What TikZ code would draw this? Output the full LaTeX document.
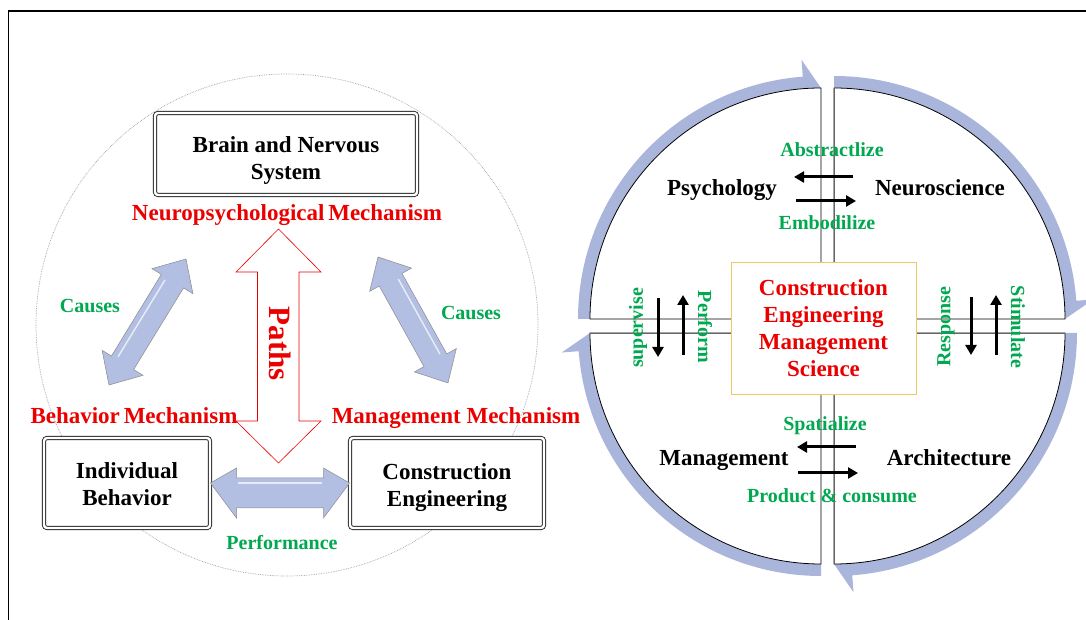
\documentclass[tikz,border=0pt]{standalone}
\usepackage{fontspec}
\setmainfont{Liberation Serif}
\usetikzlibrary{arrows.meta,calc}
\definecolor{redt}{RGB}{235,0,0}
\definecolor{greent}{RGB}{0,168,80}
\definecolor{bandblue}{RGB}{170,181,219}
\definecolor{arrowblue}{RGB}{178,190,226}
\definecolor{boxgold}{RGB}{236,204,96}
\definecolor{circgray}{RGB}{150,160,180}
\begin{document}
\begin{tikzpicture}[x=1pt,y=1pt,
  lbl/.style={font=\fontsize{23}{27}\selectfont\bfseries, align=center, inner sep=0pt},
  redlbl/.style={lbl, text=redt},
  grnlbl/.style={font=\fontsize{20}{24}\selectfont\bfseries, text=greent, inner sep=0pt},
  blkbox/.style={draw=black!85, line width=0.9pt, double=white, double distance=2.4pt, rounded corners=3pt, fill=white},
  blockarrow/.style={fill=arrowblue, draw=black!45, line width=0.5pt},
  smallarrow/.style={line width=3pt, -{Triangle[length=10pt,width=11pt]}},
  quad/.style={fill=white, draw=black, line width=0.8pt},
  band/.style={fill=bandblue},
  hollowarrow/.style={draw=redt, line width=0.6pt, fill=white}
]
\useasboundingbox (0,0) rectangle (1086,620);
\clip (0,0) rectangle (1086,620);
% frame
\draw[line width=1.5pt] (8.5,-20) -- (8.5,609) -- (1100,609);

% ---------------- left part ----------------
\draw[circgray, densely dotted, line width=0.7pt] (287,295) circle[radius=251];

\node[blkbox, minimum width=262pt, minimum height=82pt] (brain) at (286,466) {};
\node[lbl] (brainT) at (286,459) {Brain and Nervous\\System};
\node[blkbox, minimum width=166pt, minimum height=90pt] (indiv) at (127,137) {};
\node[lbl] (indivT) at (127,135.5) {Individual\\Behavior};
\node[blkbox, minimum width=194pt, minimum height=90pt] (cons) at (447,137) {};
\node[lbl] (consT) at (447,132.5) {Construction\\Engineering};

\node[redlbl] (neuro) at (287,405) {Neuropsychological\,Mechanism};
\node[redlbl] (behm) at (134,204) {Behavior\,Mechanism};
\node[redlbl] (mgm) at (456,202) {Management Mechanism};

% hollow red double arrow (Paths)
\coordinate (ptop) at (278.5,391);
\coordinate (pbot) at (278.5,157);
\path[hollowarrow] (ptop) -- (321,348) -- (299,348) -- (299,199) -- (321,199) -- (pbot)
  -- (236,199) -- (257.5,199) -- (257.5,348) -- (236,348) -- cycle;
\node[font=\fontsize{31}{31}\selectfont\bfseries, text=redt, rotate=-90, inner sep=0pt] (paths) at (280,276) {Paths};

% blue block arrows
\begin{scope}[shift={(147.5,298)}, rotate=58.57]
\path[blockarrow] (73.85,0) -- (47.85,24) -- (47.85,13) -- (-47.85,13) -- (-47.85,24) -- (-73.85,0)
  -- (-47.85,-24) -- (-47.85,-13) -- (47.85,-13) -- (47.85,-24) -- cycle;
\draw[white, line width=1.5pt, opacity=0.7] (-45,7) -- (45,7);
\end{scope}
\begin{scope}[shift={(413,300)}, rotate=119.06]
\path[blockarrow] (72.05,0) -- (46.05,24) -- (46.05,13) -- (-46.05,13) -- (-46.05,24) -- (-72.05,0)
  -- (-46.05,-24) -- (-46.05,-13) -- (46.05,-13) -- (46.05,-24) -- cycle;
\draw[white, line width=1.5pt, opacity=0.7] (-43,-7) -- (43,-7);
\end{scope}
\path[blockarrow] (indiv.east) -- (236.5,152) -- (236.5,142) -- (323.5,142) -- (323.5,152) -- (cons.west)
  -- (323.5,102) -- (323.5,112) -- (236.5,112) -- (236.5,102) -- cycle;
\draw[white, line width=1.5pt, opacity=0.7] (238,137) -- (322,137);

\node[grnlbl] (causesL) at (90,314) {Causes};
\node[grnlbl] (causesR) at (471,307) {Causes};
\node[grnlbl] (perf) at (282,77) {Performance};

% ---------------- right part ----------------
% blue bands with half arrow heads
\begin{scope}[shift={(821,301)}]
\path[band] (180:243) arc[start angle=180, end angle=94.3, radius=243] -- (94.3:260) -- (90:231)
  arc[start angle=90, end angle=180, radius=231] -- cycle;
\end{scope}
\begin{scope}[shift={(834,301)}]
\path[band] (90:243) arc[start angle=90, end angle=4.3, radius=243] -- (4.3:260) -- (0:231)
  arc[start angle=0, end angle=90, radius=231] -- cycle;
\end{scope}
\begin{scope}[shift={(834,287)}]
\path[band] (0:243) arc[start angle=0, end angle=-85.7, radius=243] -- (-85.7:260) -- (-90:231)
  arc[start angle=-90, end angle=0, radius=231] -- cycle;
\end{scope}
\begin{scope}[shift={(821,287)}]
\path[band] (-90:243) arc[start angle=-90, end angle=-175.7, radius=243] -- (-175.7:260) -- (-180:231)
  arc[start angle=-180, end angle=-90, radius=231] -- cycle;
\end{scope}

% quadrants
\path[quad] (821,301) -- (590,301) arc[start angle=180, end angle=90, radius=231] -- cycle;
\path[quad] (834,301) -- (834,532) arc[start angle=90, end angle=0, radius=231] -- cycle;
\path[quad] (821,287) -- (821,56) arc[start angle=270, end angle=180, radius=231] -- cycle;
\path[quad] (834,287) -- (1065,287) arc[start angle=0, end angle=-90, radius=231] -- cycle;
\draw[black!60, line width=0.8pt] (834,301) -- (834,532);
\draw[black!60, line width=0.8pt] (834,287) -- (834,56);
\draw[black!60, line width=0.8pt] (590,287) -- (821,287);
\draw[black!60, line width=0.8pt] (834,287) -- (1065,287);

% centre box
\node[redlbl, draw=boxgold, line width=0.8pt, fill=white, minimum width=185pt, minimum height=132pt] (cems) at (823.5,292)
  {Construction\\Engineering\\Management\\Science};

\node[lbl] (psy) at (722,430) {Psychology};
\node[lbl] (neu) at (940,432) {Neuroscience};
\node[lbl] (man) at (724,159) {Management};
\node[lbl] (arc) at (949,162) {Architecture};

\node[grnlbl] (abs) at (832,470) {Abstractlize};
\node[grnlbl] (emb) at (827,397) {Embodilize};
\node[grnlbl] (spa) at (825,194) {Spatialize};
\node[grnlbl] (pro) at (832,124) {Product \& consume};

\node[grnlbl, rotate=90] (sup) at (638,292) {supervise};
\node[grnlbl, rotate=-90] (perfm) at (705,293) {Perform};
\node[grnlbl, rotate=90] (resp) at (946,293) {Response};
\node[grnlbl, rotate=-90] (stim) at (1018,293) {Stimulate};

% small black arrows
\coordinate (a1s) at (853,443); \coordinate (a1e) at (794,443);
\coordinate (a2s) at (796,419); \coordinate (a2e) at (856,419);
\coordinate (a3s) at (856,173); \coordinate (a3e) at (797,173);
\coordinate (a4s) at (798,147); \coordinate (a4e) at (858,147);
\coordinate (a5s) at (658,322); \coordinate (a5e) at (658,263);
\coordinate (a6s) at (683,265); \coordinate (a6e) at (683,325);
\coordinate (a7s) at (971,323); \coordinate (a7e) at (971,265);
\coordinate (a8s) at (996,265); \coordinate (a8e) at (996,325);
\foreach \s/\e in {a1s/a1e,a2s/a2e,a3s/a3e,a4s/a4e,a5s/a5e,a6s/a6e,a7s/a7e,a8s/a8e}
  \draw[smallarrow] (\s) -- (\e);
\end{tikzpicture}
\end{document}
